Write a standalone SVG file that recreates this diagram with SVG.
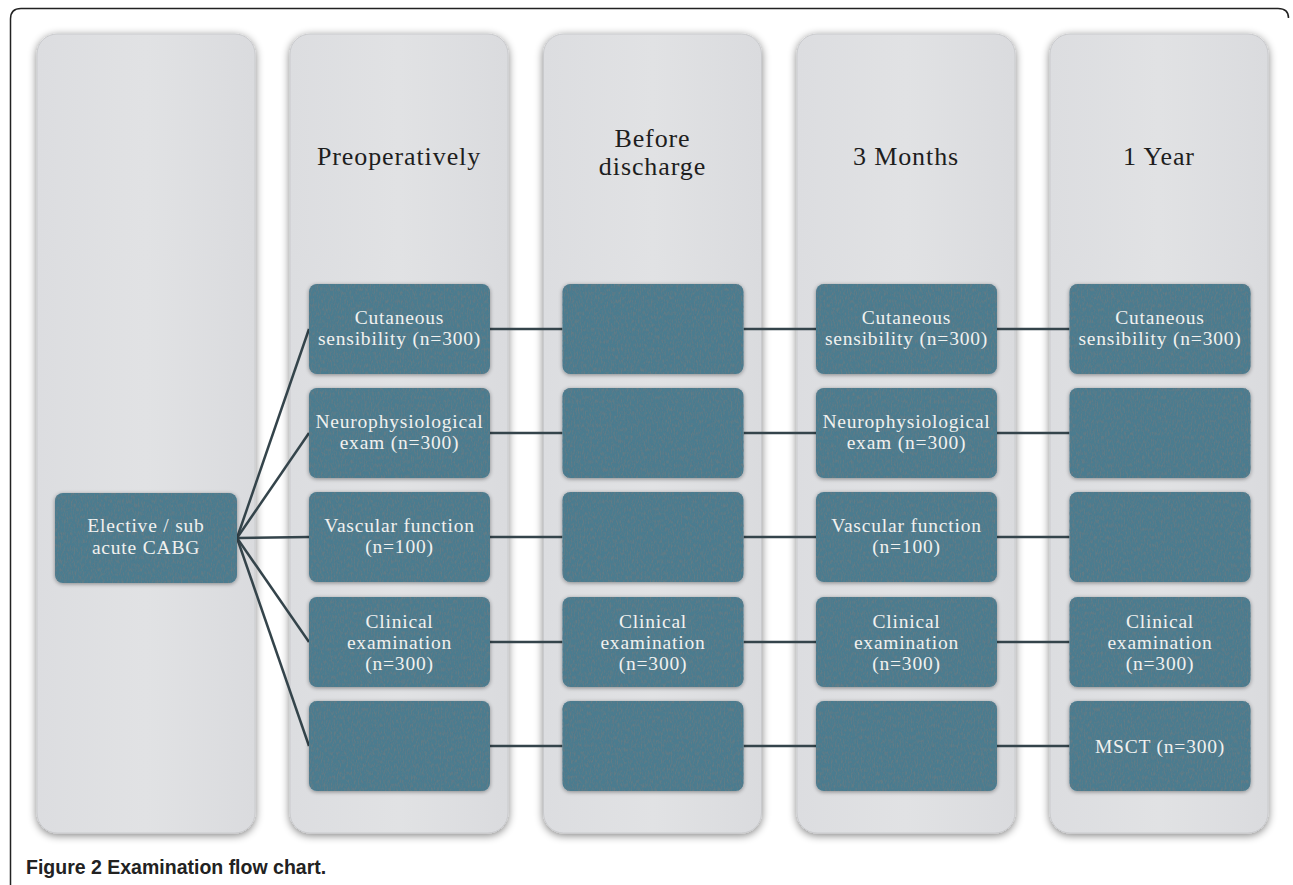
<svg xmlns="http://www.w3.org/2000/svg" width="1293" height="885" viewBox="0 0 1293 885">
<defs>
  <linearGradient id="colg" x1="0" y1="0" x2="1" y2="0">
    <stop offset="0" stop-color="#dcdde0"/>
    <stop offset="0.5" stop-color="#e1e2e4"/>
    <stop offset="1" stop-color="#dadbde"/>
  </linearGradient>
  <filter id="colsh" x="-10%" y="-5%" width="120%" height="110%">
    <feGaussianBlur in="SourceAlpha" stdDeviation="4"/>
    <feOffset dx="0" dy="2" result="b"/>
    <feComponentTransfer in="b" result="bs"><feFuncA type="linear" slope="0.5"/></feComponentTransfer>
    <feMerge><feMergeNode in="bs"/><feMergeNode in="SourceGraphic"/></feMerge>
  </filter>
  <filter id="boxf" x="-5%" y="-10%" width="110%" height="120%">
    <feTurbulence type="fractalNoise" baseFrequency="0.7 0.25" numOctaves="3" seed="7" result="n"/>
    <feColorMatrix in="n" type="matrix" values="0 0 0 0 0.12  0 0 0 0 0.2  0 0 0 0 0.24  0 0 0 -3 1.7" result="nn"/>
    <feComposite in="nn" in2="SourceAlpha" operator="in" result="tex"/>
    <feGaussianBlur in="SourceAlpha" stdDeviation="2"/>
    <feOffset dx="0" dy="1" result="b"/>
    <feComponentTransfer in="b" result="bs"><feFuncA type="linear" slope="0.4"/></feComponentTransfer>
    <feMerge><feMergeNode in="bs"/><feMergeNode in="SourceGraphic"/><feMergeNode in="tex"/></feMerge>
  </filter>
</defs>
<style>
  .col { fill: url(#colg); stroke: #c9cacd; stroke-width: 1; filter: url(#colsh); }
  .box { fill: #4b7b8f; filter: url(#boxf); }
  .bt { font-family: "Liberation Serif", "Times New Roman", serif; font-size: 19.5px; letter-spacing: 0.8px; fill: #f1f1ef; text-anchor: middle; }
  .ht { font-family: "Liberation Serif", "Times New Roman", serif; font-size: 26px; letter-spacing: 0.9px; fill: #1e1e1e; text-anchor: middle; }
  .cn { stroke: #34444b; stroke-width: 2.5; fill: none; }
  .cap { font-family: "Liberation Sans", Arial, sans-serif; font-size: 19.5px; font-weight: bold; fill: #222; }
</style>
<rect x="0" y="0" width="1293" height="885" fill="#ffffff"/>
<path d="M10.5,885 L10.5,19 Q10.5,8.5 21,8.5 L1278,8.5 Q1288.5,8.5 1288.5,18" fill="none" stroke="#222" stroke-width="1.5"/>

<g id="columns">
  <rect id="col0" class="col" x="37" y="34" width="218" height="799" rx="20"/>
  <rect id="col1" class="col" x="290" y="34" width="218" height="799" rx="20"/>
  <rect id="col2" class="col" x="543.5" y="34" width="218" height="799" rx="20"/>
  <rect id="col3" class="col" x="797" y="34" width="218" height="799" rx="20"/>
  <rect id="col4" class="col" x="1050" y="34" width="218" height="799" rx="20"/>
</g>

<g id="headers">
  <text class="ht" x="399" y="165">Preoperatively</text>
  <text class="ht" x="652.5" y="147">Before</text>
  <text class="ht" x="652.5" y="175">discharge</text>
  <text class="ht" x="906" y="165">3 Months</text>
  <text class="ht" x="1159" y="165">1 Year</text>
</g>

<g id="connectors">
  <line class="cn" x1="237" y1="538" x2="309" y2="329"/>
  <line class="cn" x1="237" y1="538" x2="309" y2="433"/>
  <line class="cn" x1="237" y1="538" x2="309" y2="537"/>
  <line class="cn" x1="237" y1="538" x2="309" y2="642"/>
  <line class="cn" x1="237" y1="538" x2="309" y2="746"/>
  <line class="cn" x1="490" y1="329" x2="562.5" y2="329"/>
  <line class="cn" x1="743.5" y1="329" x2="816" y2="329"/>
  <line class="cn" x1="997" y1="329" x2="1069.5" y2="329"/>
  <line class="cn" x1="490" y1="433" x2="562.5" y2="433"/>
  <line class="cn" x1="743.5" y1="433" x2="816" y2="433"/>
  <line class="cn" x1="997" y1="433" x2="1069.5" y2="433"/>
  <line class="cn" x1="490" y1="537" x2="562.5" y2="537"/>
  <line class="cn" x1="743.5" y1="537" x2="816" y2="537"/>
  <line class="cn" x1="997" y1="537" x2="1069.5" y2="537"/>
  <line class="cn" x1="490" y1="642" x2="562.5" y2="642"/>
  <line class="cn" x1="743.5" y1="642" x2="816" y2="642"/>
  <line class="cn" x1="997" y1="642" x2="1069.5" y2="642"/>
  <line class="cn" x1="490" y1="746" x2="562.5" y2="746"/>
  <line class="cn" x1="743.5" y1="746" x2="816" y2="746"/>
  <line class="cn" x1="997" y1="746" x2="1069.5" y2="746"/>
</g>

<g id="n-elective">
  <rect class="box" x="55" y="493" width="182" height="90" rx="8"/>
  <text class="bt" x="146" y="532">Elective / sub</text>
  <text class="bt" x="146" y="554">acute CABG</text>
</g>

<g id="n-pre-cut">
  <rect class="box" x="309" y="284" width="181" height="90" rx="8"/>
  <text class="bt" x="399.5" y="324">Cutaneous</text>
  <text class="bt" x="399.5" y="345">sensibility (n=300)</text>
</g>
<g id="n-pre-neuro">
  <rect class="box" x="309" y="388" width="181" height="90" rx="8"/>
  <text class="bt" x="399.5" y="428">Neurophysiological</text>
  <text class="bt" x="399.5" y="449">exam (n=300)</text>
</g>
<g id="n-pre-vasc">
  <rect class="box" x="309" y="492" width="181" height="90" rx="8"/>
  <text class="bt" x="399.5" y="532">Vascular function</text>
  <text class="bt" x="399.5" y="553">(n=100)</text>
</g>
<g id="n-pre-clin">
  <rect class="box" x="309" y="597" width="181" height="90" rx="8"/>
  <text class="bt" x="399.5" y="628">Clinical</text>
  <text class="bt" x="399.5" y="649">examination</text>
  <text class="bt" x="399.5" y="670">(n=300)</text>
</g>
<g id="n-pre-empty">
  <rect class="box" x="309" y="701" width="181" height="90" rx="8"/>
</g>

<g id="n-dis-1"><rect class="box" x="562.5" y="284" width="181" height="90" rx="8"/></g>
<g id="n-dis-2"><rect class="box" x="562.5" y="388" width="181" height="90" rx="8"/></g>
<g id="n-dis-3"><rect class="box" x="562.5" y="492" width="181" height="90" rx="8"/></g>
<g id="n-dis-clin">
  <rect class="box" x="562.5" y="597" width="181" height="90" rx="8"/>
  <text class="bt" x="653" y="628">Clinical</text>
  <text class="bt" x="653" y="649">examination</text>
  <text class="bt" x="653" y="670">(n=300)</text>
</g>
<g id="n-dis-5"><rect class="box" x="562.5" y="701" width="181" height="90" rx="8"/></g>

<g id="n-3m-cut">
  <rect class="box" x="816" y="284" width="181" height="90" rx="8"/>
  <text class="bt" x="906.5" y="324">Cutaneous</text>
  <text class="bt" x="906.5" y="345">sensibility (n=300)</text>
</g>
<g id="n-3m-neuro">
  <rect class="box" x="816" y="388" width="181" height="90" rx="8"/>
  <text class="bt" x="906.5" y="428">Neurophysiological</text>
  <text class="bt" x="906.5" y="449">exam (n=300)</text>
</g>
<g id="n-3m-vasc">
  <rect class="box" x="816" y="492" width="181" height="90" rx="8"/>
  <text class="bt" x="906.5" y="532">Vascular function</text>
  <text class="bt" x="906.5" y="553">(n=100)</text>
</g>
<g id="n-3m-clin">
  <rect class="box" x="816" y="597" width="181" height="90" rx="8"/>
  <text class="bt" x="906.5" y="628">Clinical</text>
  <text class="bt" x="906.5" y="649">examination</text>
  <text class="bt" x="906.5" y="670">(n=300)</text>
</g>
<g id="n-3m-5"><rect class="box" x="816" y="701" width="181" height="90" rx="8"/></g>

<g id="n-1y-cut">
  <rect class="box" x="1069.5" y="284" width="181" height="90" rx="8"/>
  <text class="bt" x="1160" y="324">Cutaneous</text>
  <text class="bt" x="1160" y="345">sensibility (n=300)</text>
</g>
<g id="n-1y-2"><rect class="box" x="1069.5" y="388" width="181" height="90" rx="8"/></g>
<g id="n-1y-3"><rect class="box" x="1069.5" y="492" width="181" height="90" rx="8"/></g>
<g id="n-1y-clin">
  <rect class="box" x="1069.5" y="597" width="181" height="90" rx="8"/>
  <text class="bt" x="1160" y="628">Clinical</text>
  <text class="bt" x="1160" y="649">examination</text>
  <text class="bt" x="1160" y="670">(n=300)</text>
</g>
<g id="n-1y-msct">
  <rect class="box" x="1069.5" y="701" width="181" height="90" rx="8"/>
  <text class="bt" x="1160" y="753">MSCT (n=300)</text>
</g>

<text class="cap" x="26" y="874">Figure 2 Examination flow chart.</text>
</svg>
